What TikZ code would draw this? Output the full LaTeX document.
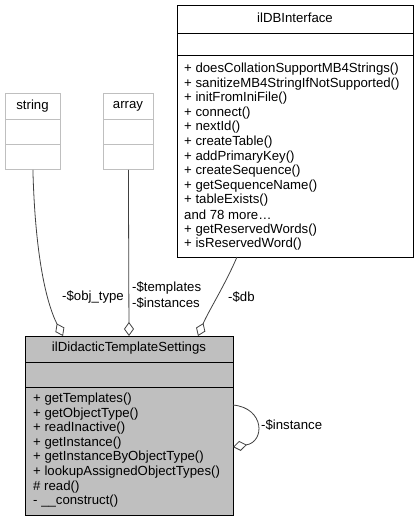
\documentclass[tikz,border=0pt]{standalone}
\usepackage{fontspec}
\setmainfont{Liberation Sans}
\usetikzlibrary{arrows.meta}
\definecolor{boxgray}{HTML}{BFBFBF}
\definecolor{edgegray}{HTML}{404040}
\begin{document}
\begin{tikzpicture}[x=1pt,y=-1pt,
  font=\fontsize{13.2}{14.6}\selectfont,
  classbox/.style={draw, anchor=north west, inner sep=0pt},
  txt/.style={inner sep=0pt, anchor=west},
  ttl/.style={inner sep=0pt},
  rel/.style={draw=edgegray, line width=0.8pt, -{Diamond[open, length=14pt, width=10pt]}},
  lbl/.style={inner sep=0pt, anchor=west}]
\useasboundingbox (0,0) rectangle (419,521);

% string
\node[classbox, draw=boxgray, line width=0.8pt, minimum width=55pt, minimum height=76pt] (string) at (5,93) {};
\node[ttl] (stringT) at (32.5,106) {string};
\draw[boxgray, line width=0.8pt] (5,119) -- (60,119) (5,144) -- (60,144);

% array
\node[classbox, draw=boxgray, line width=0.8pt, minimum width=50pt, minimum height=76pt] (array) at (103,93) {};
\node[ttl] (arrayT) at (128,106) {array};
\draw[boxgray, line width=0.8pt] (103,119) -- (153,119) (103,144) -- (153,144);

% ilDBInterface
\node[classbox, fill=white, line width=0.8pt, minimum width=236pt, minimum height=252pt] (db) at (177,5) {};
\node[ttl] (dbT) at (295,18) {ilDBInterface};
\draw[line width=0.8pt] (177,33) -- (413,33) (177,55) -- (413,55);
\foreach \t [count=\i from 0] in {{+ doesCollationSupportMB4Strings()}, {+ sanitizeMB4StringIfNotSupported()}, {+ initFromIniFile()}, {+ connect()}, {+ nextId()}, {+ createTable()}, {+ addPrimaryKey()}, {+ createSequence()}, {+ getSequenceName()}, {+ tableExists()}, {and 78 more\ldots}, {+ getReservedWords()}, {+ isReservedWord()}}
  \node[txt] (dbm\i) at (184,69+14.6*\i) {\t};

% ilDidacticTemplateSettings
\node[classbox, fill=boxgray, line width=0.8pt, minimum width=208pt, minimum height=179pt] (main) at (25,336) {};
\node[ttl] (mainT) at (129,348) {ilDidacticTemplateSettings};
\draw[line width=0.8pt] (25,362) -- (233,362) (25,387) -- (233,387);
\foreach \t [count=\i from 0] in {{+ getTemplates()}, {+ getObjectType()}, {+ readInactive()}, {+ getInstance()}, {+ getInstanceByObjectType()}, {+ lookupAssignedObjectTypes()}, {\# read()}, {- \_\_construct()}}
  \node[txt] (mm\i) at (33,399+14.6*\i) {\t};

% connectors
\coordinate (eObj) at (63,336);
\coordinate (eArr) at (129,336);
\coordinate (eDb) at (198,336);
\coordinate (sDb) at (237,257);
\coordinate (sSelf) at (233,405);
\coordinate (eSelf) at (233,447);

\draw[rel] (string.south) .. controls (35,250) and (45,300) .. (eObj);
\draw[rel] (array.south) -- (eArr);
\draw[rel] (sDb) .. controls (225,285) and (208,312) .. (eDb);
\draw[rel] (sSelf) .. controls (265,408) and (265,442) .. (eSelf);

\node[lbl] (lObj) at (62,297) {-\$obj\_type};
\node[lbl] (lTpl) at (132,288) {-\$templates};
\node[lbl] (lIns) at (132,303) {-\$instances};
\node[lbl] (lDb) at (228,297) {-\$db};
\node[lbl] (lSelf) at (261,425) {-\$instance};
\end{tikzpicture}
\end{document}
